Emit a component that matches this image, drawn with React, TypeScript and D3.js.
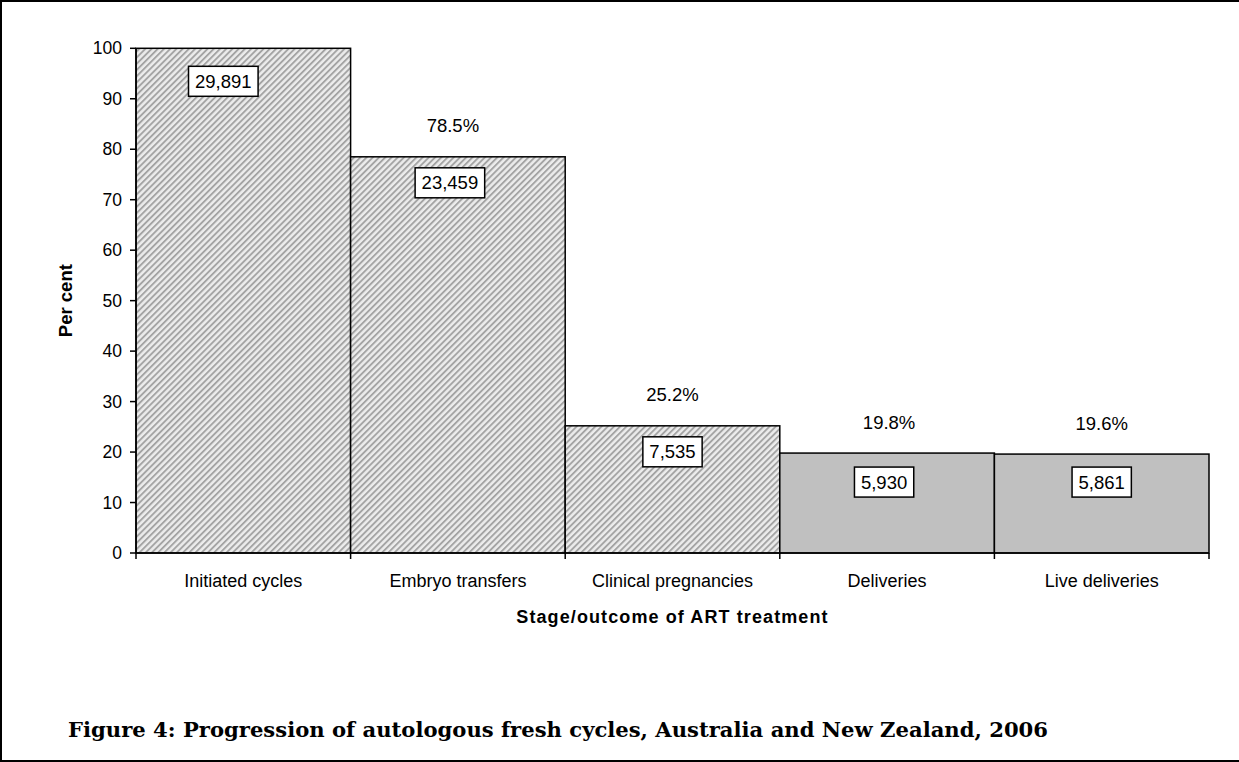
import React from "react";
import * as d3 from "d3";

// chart values
const stages = ["Initiated cycles", "Embryo transfers", "Clinical pregnancies", "Deliveries", "Live deliveries"];
const percents = [100, 78.5, 25.2, 19.8, 19.6];
const counts = [29891, 23459, 7535, 5930, 5861];
const showPercent = [false, true, true, true, true];
const hatched = [true, true, true, false, false];
const yTicks = [0, 10, 20, 30, 40, 50, 60, 70, 80, 90, 100];

// hand-placed label nudges (the original labels were dragged a bit in Excel)
const boxNudgeX = [-20, -8, 0, -3, 0];
const boxNudgeY = [5, -2, -2, 1, 0];
const pctNudgeX = [0, -5, 0, 2, 0];

const WIDTH = 1239;
const HEIGHT = 762;
const FONT = "'Liberation Sans', Arial, sans-serif";

// rough text width for Arial digits/commas at a given size
function labelWidth(txt: string, size: number) {
  let w = 0;
  for (const ch of txt) w += ch === "," || ch === "." ? 0.278 : 0.556;
  return w * size;
}

export default function App() {
  const x = d3.scaleBand<string>().domain(stages).range([136, 1209]).padding(0);
  const y = d3.scaleLinear().domain([0, 100]).range([553, 48.3]);
  const fmt = d3.format(",");

  const x0 = x.range()[0];
  const x1 = x.range()[1];

  return (
    <div style={{ position: "absolute", left: 0, top: 0 }}>
      <svg width={WIDTH} height={HEIGHT} style={{ display: "block", background: "#fff" }}>
        <defs>
          <pattern id="hatch" width={4.4} height={10} patternUnits="userSpaceOnUse" patternTransform="rotate(45)">
            <rect width={4.4} height={10} fill="#ececec" />
            <rect width={1.9} height={10} fill="#a4a4a4" />
          </pattern>
        </defs>

        {/* outer frame */}
        <rect x={1} y={1} width={WIDTH + 4} height={HEIGHT - 2} fill="none" stroke="#000" strokeWidth={2} />

        {/* bars */}
        {stages.map((s, i) => (
          <rect
            key={s}
            x={x(s)}
            y={y(percents[i])}
            width={x.bandwidth()}
            height={y(0) - y(percents[i])}
            fill={hatched[i] ? "url(#hatch)" : "#c0c0c0"}
            stroke="#000"
            strokeWidth={1.5}
          />
        ))}

        {/* y axis */}
        <line x1={x0} x2={x0} y1={y(100)} y2={y(0)} stroke="#000" strokeWidth={1.5} />
        {yTicks.map((t) => (
          <g key={t} transform={`translate(0,${y(t)})`}>
            <line x1={x0 - 6} x2={x0} stroke="#000" strokeWidth={1.5} />
            <text x={x0 - 14} dy="0.35em" textAnchor="end" fontFamily={FONT} fontSize={17.5} fill="#000">
              {t}
            </text>
          </g>
        ))}

        {/* x axis */}
        <line x1={x0} x2={x1} y1={y(0)} y2={y(0)} stroke="#000" strokeWidth={1.5} />
        {stages.concat([""]).map((s, i) => {
          const px = i < stages.length ? (x(s) as number) : x1;
          return <line key={"t" + i} x1={px} x2={px} y1={y(0)} y2={y(0) + 6} stroke="#000" strokeWidth={1.5} />;
        })}
        {stages.map((s) => (
          <text
            key={"c" + s}
            x={(x(s) as number) + x.bandwidth() / 2}
            y={587}
            textAnchor="middle"
            fontFamily={FONT}
            fontSize={18}
            fill="#000"
          >
            {s}
          </text>
        ))}

        {/* percent labels above bars */}
        {stages.map((s, i) =>
          showPercent[i] ? (
            <text
              key={"p" + s}
              x={(x(s) as number) + x.bandwidth() / 2 + pctNudgeX[i]}
              y={y(percents[i]) - 31}
              dy="0.35em"
              textAnchor="middle"
              fontFamily={FONT}
              fontSize={18.5}
              fill="#000"
            >
              {percents[i].toFixed(1) + "%"}
            </text>
          ) : null
        )}

        {/* boxed count labels */}
        {stages.map((s, i) => {
          const txt = fmt(counts[i]);
          const w = labelWidth(txt, 18.5) + 13;
          const cx = (x(s) as number) + x.bandwidth() / 2 + boxNudgeX[i];
          const cy = y(percents[i]) + 28 + boxNudgeY[i];
          return (
            <g key={"n" + s}>
              <rect x={cx - w / 2} y={cy - 15} width={w} height={30} fill="#fff" stroke="#000" strokeWidth={1.5} />
              <text x={cx} y={cy} dy="0.35em" textAnchor="middle" fontFamily={FONT} fontSize={18.5} fill="#000">
                {txt}
              </text>
            </g>
          );
        })}

        {/* axis titles */}
        <text
          transform={`translate(72,${(y(0) + y(100)) / 2}) rotate(-90)`}
          textAnchor="middle"
          fontFamily={FONT}
          fontWeight="bold"
          fontSize={18.5}
          fill="#000"
        >
          Per cent
        </text>
        <text
          x={(x0 + x1) / 2}
          y={623}
          textAnchor="middle"
          fontFamily={FONT}
          fontWeight="bold"
          fontSize={18}
          letterSpacing={1.1}
          fill="#000"
        >
          Stage/outcome of ART treatment
        </text>

        {/* figure caption */}
        <text
          x={68}
          y={737}
          fontFamily="'DejaVu Serif', 'Liberation Serif', serif"
          fontWeight="bold"
          fontSize={21}
          textLength={980}
          lengthAdjust="spacingAndGlyphs"
          fill="#000"
        >
          Figure 4: Progression of autologous fresh cycles, Australia and New Zealand, 2006
        </text>
      </svg>
    </div>
  );
}
